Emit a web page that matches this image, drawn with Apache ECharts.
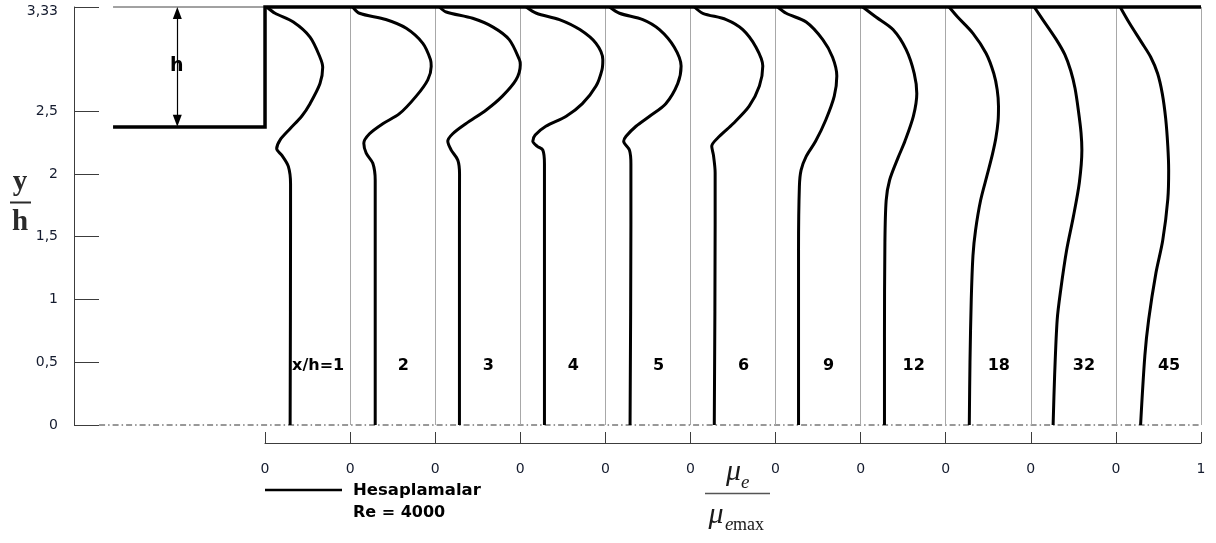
<!DOCTYPE html>
<html>
<head>
<meta charset="utf-8">
<script src="https://cdn.jsdelivr.net/npm/echarts@6/dist/echarts.min.js"></script>
<style>
  html, body { margin: 0; padding: 0; background: #fff; }
  #chart { width: 1216px; height: 543px; }
</style>
</head>
<body>
<div id="chart"></div>
<script>
// Measuring stations (x/h) behind the backward-facing step
const stations = ['x/h=1', '2', '3', '4', '5', '6', '9', '12', '18', '32', '45'];

// Eddy-viscosity profiles, pairs of [mu_e / mu_emax, y/h], from the upper wall down to the floor
const profX1 = [[0.02,3.33],[0.118,3.28],[0.333,3.21],[0.529,3.09],[0.646,2.93],[0.678,2.85],[0.646,2.72],[0.529,2.56],[0.431,2.46],[0.294,2.36],[0.176,2.27],[0.137,2.20],[0.196,2.15],[0.274,2.06],[0.30,1.92],[0.30,1.6],[0.295,0]];
const profX2 = [[0.03,3.33],[0.11,3.28],[0.42,3.23],[0.66,3.16],[0.855,3.04],[0.945,2.91],[0.953,2.855],[0.913,2.75],[0.777,2.62],[0.58,2.48],[0.384,2.40],[0.228,2.32],[0.161,2.245],[0.189,2.165],[0.267,2.085],[0.295,1.95],[0.295,1.6],[0.295,0]];
const profX3 = [[0.05,3.33],[0.13,3.29],[0.44,3.24],[0.68,3.17],[0.87,3.07],[0.99,2.91],[1.0,2.87],[0.95,2.75],[0.79,2.62],[0.60,2.51],[0.36,2.40],[0.206,2.32],[0.148,2.26],[0.188,2.19],[0.266,2.11],[0.286,2.0],[0.285,1.6],[0.285,0]];
const profX4 = [[0.07,3.33],[0.19,3.28],[0.46,3.23],[0.70,3.15],[0.89,3.04],[0.97,2.91],[0.96,2.83],[0.89,2.70],[0.73,2.56],[0.54,2.46],[0.30,2.38],[0.175,2.31],[0.147,2.26],[0.20,2.22],[0.265,2.19],[0.284,2.08],[0.284,1.6],[0.284,0]];
const profX5 = [[0.05,3.33],[0.166,3.28],[0.44,3.23],[0.636,3.15],[0.81,3.01],[0.89,2.86],[0.85,2.72],[0.71,2.56],[0.52,2.46],[0.36,2.38],[0.243,2.30],[0.215,2.26],[0.283,2.19],[0.30,2.08],[0.30,1.6],[0.29,0]];
const profX6 = [[0.047,3.33],[0.145,3.28],[0.42,3.23],[0.615,3.15],[0.77,3.01],[0.85,2.86],[0.81,2.70],[0.69,2.54],[0.50,2.40],[0.34,2.30],[0.25,2.22],[0.27,2.15],[0.29,2.01],[0.29,1.6],[0.28,0]];
const profX9 = [[0.026,3.33],[0.125,3.28],[0.36,3.21],[0.555,3.07],[0.67,2.93],[0.72,2.78],[0.69,2.62],[0.59,2.43],[0.47,2.26],[0.36,2.14],[0.30,2.03],[0.28,1.90],[0.27,1.4],[0.27,0]];
const profX12 = [[0.025,3.33],[0.18,3.25],[0.38,3.15],[0.535,2.99],[0.63,2.80],[0.66,2.64],[0.62,2.46],[0.52,2.26],[0.44,2.13],[0.34,1.95],[0.30,1.79],[0.285,1.45],[0.28,0.7],[0.28,0]];
const profX18 = [[0.04,3.33],[0.14,3.25],[0.32,3.12],[0.475,2.96],[0.565,2.80],[0.605,2.67],[0.62,2.54],[0.615,2.42],[0.59,2.29],[0.55,2.16],[0.49,2.0],[0.41,1.79],[0.35,1.55],[0.32,1.35],[0.30,1.0],[0.285,0.5],[0.277,0]];
const profX32 = [[0.04,3.33],[0.14,3.23],[0.30,3.07],[0.40,2.95],[0.47,2.82],[0.52,2.68],[0.56,2.50],[0.59,2.33],[0.60,2.19],[0.57,1.93],[0.50,1.66],[0.42,1.39],[0.35,1.07],[0.31,0.84],[0.28,0.4],[0.262,0]];
const profX45 = [[0.05,3.33],[0.16,3.20],[0.30,3.05],[0.41,2.93],[0.49,2.80],[0.545,2.64],[0.585,2.44],[0.61,2.22],[0.62,2.03],[0.61,1.80],[0.55,1.47],[0.47,1.21],[0.385,0.84],[0.34,0.55],[0.29,0]];

const profiles = [profX1, profX2, profX3, profX4, profX5, profX6, profX9, profX12, profX18, profX32, profX45];

// y/h axis ticks and the 0..1 scale under each station panel
const yTicks = [0, 0.5, 1, 1.5, 2, 2.5, 3.33];
const scaleLabels = ['0', '0', '0', '0', '0', '0', '0', '0', '0', '0', '0', '1'];

// Channel geometry (y/h)
const channelTop = 3.33;
const stepTop = 2.375;

// ---- layout: one station panel = 1 unit along x ----
const X_MIN = -2.245, X_MAX = stations.length;
const STEP_LEFT = -1.786;
const ARROW_X = -1.031;
const ZERO_LINE_START = -1.95;
const ARROW_INSET = 0.048;
const LABEL_U = 0.63, LABEL_Y = 0.47;

const FONT = "'DejaVu Sans', Verdana, sans-serif";
const SERIF = "'Liberation Serif', 'DejaVu Serif', serif";
const AXIS_COLOR = '#3c3c3c';
const TICK_TEXT = '#141b2e';

const boundaries = [];
for (let k = 1; k <= stations.length; k++) boundaries.push({ xAxis: k });

const profileSeries = profiles.map((prof, k) => ({
  type: 'line',
  name: stations[k],
  xAxisIndex: 0, yAxisIndex: 0,
  data: prof.map(([u, y]) => [k + u, y]),
  smooth: 0.3,
  symbol: 'none',
  clip: false,
  silent: true,
  z: 5,
  lineStyle: { color: '#000', width: 3 }
}));

const chart = echarts.init(document.getElementById('chart'), null, { renderer: 'canvas' });

chart.setOption({
  animation: false,
  backgroundColor: '#fff',
  textStyle: { fontFamily: FONT },
  grid: [
    { left: 74, right: 15, top: 7, bottom: 118, outerBoundsMode: 'none' },
    { left: 265, right: 15, top: 432, height: 11, outerBoundsMode: 'none' }
  ],
  xAxis: [
    { gridIndex: 0, type: 'value', min: X_MIN, max: X_MAX, show: false },
    {
      gridIndex: 1, type: 'value', min: 0, max: stations.length, interval: 1, position: 'bottom',
      axisLine: { show: true, onZero: false, lineStyle: { color: AXIS_COLOR, width: 1 } },
      axisTick: { show: true, inside: true, length: 11, lineStyle: { color: AXIS_COLOR, width: 1 } },
      axisLabel: {
        show: true, margin: 19, fontSize: 14, color: TICK_TEXT, fontFamily: FONT,
        showMinLabel: true, showMaxLabel: true,
        formatter: (v) => scaleLabels[Math.round(v)]
      },
      splitLine: { show: false }
    }
  ],
  yAxis: [
    {
      gridIndex: 0, type: 'value', min: 0, max: channelTop, position: 'left',
      axisLine: { show: true, onZero: false, lineStyle: { color: AXIS_COLOR, width: 1 } },
      axisTick: { show: true, inside: true, length: 25, customValues: yTicks, lineStyle: { color: AXIS_COLOR, width: 1 } },
      axisLabel: {
        show: true, customValues: yTicks, margin: 16, fontSize: 14, color: TICK_TEXT, fontFamily: FONT,
        formatter: (v) => v === channelTop ? '{top|3,33}' : String(v).replace('.', ','),
        rich: { top: { fontSize: 14, fontFamily: FONT, color: TICK_TEXT, padding: [9, 0, 0, 0] } }
      },
      splitLine: { show: false }
    },
    { gridIndex: 1, type: 'value', min: 0, max: 1, show: false }
  ],
  series: [
    // floor line (dash-dot) with the thin panel separators
    {
      type: 'line', xAxisIndex: 0, yAxisIndex: 0,
      data: [[ZERO_LINE_START, 0], [X_MAX, 0]],
      symbol: 'none', clip: false, silent: true, z: 1,
      lineStyle: { color: '#333', width: 1, type: [6, 3, 1.5, 3] },
      markLine: {
        silent: true, symbol: ['none', 'none'], animation: false,
        label: { show: false },
        lineStyle: { color: '#a8a8a8', width: 1, type: 'solid' },
        data: boundaries
      }
    },
    // thin upper reference line over the inlet
    {
      type: 'line', xAxisIndex: 0, yAxisIndex: 0,
      data: [[STEP_LEFT, channelTop], [0, channelTop]],
      symbol: 'none', clip: false, silent: true, z: 2,
      lineStyle: { color: '#444', width: 1 }
    },
    // step and upper wall
    {
      type: 'line', xAxisIndex: 0, yAxisIndex: 0,
      data: [[STEP_LEFT, stepTop], [0, stepTop], [0, channelTop], [X_MAX, channelTop]],
      symbol: 'none', clip: false, silent: true, z: 6,
      lineStyle: { color: '#000', width: 3.5, join: 'miter' }
    },
    // step height dimension arrow
    {
      type: 'line', xAxisIndex: 0, yAxisIndex: 0,
      data: [[ARROW_X, (channelTop + stepTop) / 2]],
      symbol: 'none', clip: false, silent: true, z: 3,
      lineStyle: { width: 0 },
      markLine: {
        silent: true, animation: false,
        symbol: ['triangle', 'triangle'], symbolSize: [9, 12],
        label: { show: false },
        itemStyle: { color: '#000' },
        lineStyle: { color: '#000', width: 1.2, type: 'solid' },
        data: [[
          { coord: [ARROW_X, channelTop - ARROW_INSET] },
          { coord: [ARROW_X, stepTop + ARROW_INSET] }
        ]]
      }
    },
    {
      type: 'scatter', xAxisIndex: 0, yAxisIndex: 0, silent: true, z: 4,
      symbolSize: 1, itemStyle: { color: 'rgba(255,255,255,0)', opacity: 1 },
      data: [{ name: 'h', value: [ARROW_X, (channelTop + stepTop) / 2] }],
      label: {
        show: true, position: [0, 0], align: 'center', verticalAlign: 'middle',
        formatter: (p) => p.name, opacity: 1,
        fontFamily: FONT, fontWeight: 'bold', fontSize: 19, color: '#000',
        backgroundColor: '#fff', padding: [5, 3]
      }
    },
    // station captions
    {
      type: 'scatter', xAxisIndex: 0, yAxisIndex: 0, silent: true, z: 7,
      symbolSize: 1, itemStyle: { color: 'rgba(255,255,255,0)', opacity: 1 },
      data: stations.map((s, k) => ({ name: s, value: [k + LABEL_U, LABEL_Y] })),
      label: {
        show: true, position: [0, 0], align: 'center', verticalAlign: 'middle',
        formatter: (p) => p.name, opacity: 1,
        fontFamily: FONT, fontWeight: 'bold', fontSize: 16, color: '#000'
      }
    },
    ...profileSeries
  ],
  graphic: [
    // y/h axis title
    { type: 'text', x: 20, y: 183, silent: true,
      style: { text: 'y', font: 'bold 29px ' + SERIF, fill: '#2a2a2a', align: 'center', verticalAlign: 'middle' } },
    { type: 'line', silent: true, shape: { x1: 10, y1: 202.5, x2: 31, y2: 202.5 }, style: { stroke: '#2a2a2a', lineWidth: 2 } },
    { type: 'text', x: 20, y: 222.5, silent: true,
      style: { text: 'h', font: 'bold 29px ' + SERIF, fill: '#2a2a2a', align: 'center', verticalAlign: 'middle' } },

    // mu_e / mu_emax axis title
    { type: 'text', x: 733.5, y: 472, silent: true,
      style: { text: 'μ', font: 'italic 30px ' + SERIF, fill: '#1a1a1a', align: 'center', verticalAlign: 'middle' } },
    { type: 'text', x: 741, y: 483, silent: true,
      style: { text: 'e', font: 'italic 19px ' + SERIF, fill: '#1a1a1a', align: 'left', verticalAlign: 'middle' } },
    { type: 'line', silent: true, shape: { x1: 705, y1: 493.5, x2: 770, y2: 493.5 }, style: { stroke: '#555', lineWidth: 1.5 } },
    { type: 'text', x: 716, y: 515, silent: true,
      style: { text: 'μ', font: 'italic 30px ' + SERIF, fill: '#1a1a1a', align: 'center', verticalAlign: 'middle' } },
    { type: 'text', x: 725, y: 525, silent: true,
      style: { text: 'e', font: 'italic 19px ' + SERIF, fill: '#1a1a1a', align: 'left', verticalAlign: 'middle' } },
    { type: 'text', x: 733, y: 525, silent: true,
      style: { text: 'max', font: '18px ' + SERIF, fill: '#1a1a1a', align: 'left', verticalAlign: 'middle' } },

    // legend
    { type: 'line', silent: true, shape: { x1: 265, y1: 490, x2: 342, y2: 490 }, style: { stroke: '#000', lineWidth: 2.5 } },
    { type: 'text', x: 353, y: 491, silent: true,
      style: { text: 'Hesaplamalar', font: 'bold 16.5px ' + FONT, fill: '#000', align: 'left', verticalAlign: 'middle' } },
    { type: 'text', x: 353, y: 512.5, silent: true,
      style: { text: 'Re = 4000', font: 'bold 16px ' + FONT, fill: '#000', align: 'left', verticalAlign: 'middle' } }
  ]
});
</script>
</body>
</html>
